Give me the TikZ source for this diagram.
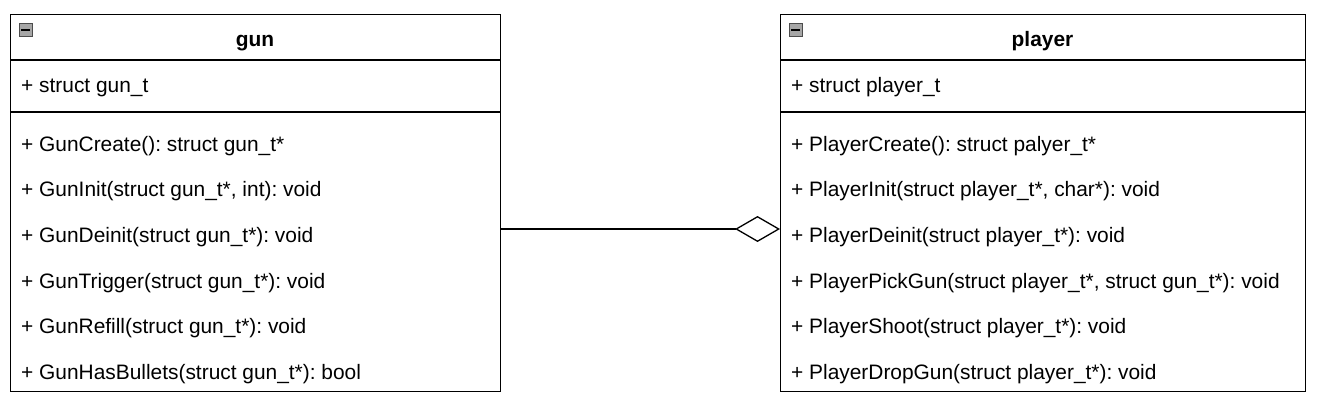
\documentclass[tikz,border=0pt]{standalone}
\usepackage{fontspec}
\setmainfont{Liberation Sans}
\usetikzlibrary{arrows.meta}
\frenchspacing
\begin{document}
\begin{tikzpicture}[x=1pt,y=-1pt,
  classbox/.style={draw, line width=1.3pt, minimum width=#1, minimum height=377pt, inner sep=0pt, anchor=north west},
  sep/.style={line width=1.3pt},
  member/.style={anchor=base west, inner sep=0pt, font=\fontsize{20.9}{24}\selectfont},
  title/.style={anchor=base, inner sep=0pt, font=\fontsize{20.9}{24}\selectfont\bfseries},
  icon/.style={draw=black!70, fill=black!35, line width=0.8pt, minimum size=13pt, inner sep=0pt},
  agg/.style={line width=1.3pt, -{Diamond[open, length=45pt, width=26pt, line width=1.3pt]}}
]
\useasboundingbox (0,0) rectangle (1321,409);
% gun
\node[classbox=490pt] (gun) at (10,14) {};
\draw[sep] (10,60) -- (500,60);
\draw[sep] (10,112) -- (500,112);
\node[icon] (gunicon) at (25.5,30) {};
\draw[line width=2pt] (21,30) -- (30,30);
\node[title] (guntitle) at (255,47) {gun};
\node[member] (ga) at (21,92.5) {+ struct gun\_t};
\node[member] (g1) at (21,151.5) {+ GunCreate(): struct gun\_t*};
\node[member] (g2) at (21,196.5) {+ GunInit(struct gun\_t*, int): void};
\node[member] (g3) at (21,242.5) {+ GunDeinit(struct gun\_t*): void};
\node[member] (g4) at (21,288.5) {+ GunTrigger(struct gun\_t*): void};
\node[member] (g5) at (21,333.5) {+ GunRefill(struct gun\_t*): void};
\node[member] (g6) at (21,379.5) {+ GunHasBullets(struct gun\_t*): bool};
% player
\node[classbox=525pt] (player) at (780,14) {};
\draw[sep] (780,60) -- (1305,60);
\draw[sep] (780,112) -- (1305,112);
\node[icon] (playericon) at (795.5,30) {};
\draw[line width=2pt] (791,30) -- (800,30);
\node[title] (playertitle) at (1042.5,47) {player};
\node[member] (pa) at (791,92.5) {+ struct player\_t};
\node[member] (p1) at (791,151.5) {+ PlayerCreate(): struct palyer\_t*};
\node[member] (p2) at (791,196.5) {+ PlayerInit(struct player\_t*, char*): void};
\node[member] (p3) at (791,242.5) {+ PlayerDeinit(struct player\_t*): void};
\node[member] (p4) at (791,288.5) {+ PlayerPickGun(struct player\_t*, struct gun\_t*): void};
\node[member] (p5) at (791,333.5) {+ PlayerShoot(struct player\_t*): void};
\node[member] (p6) at (791,379.5) {+ PlayerDropGun(struct player\_t*): void};
% aggregation
\draw[agg] (gun.east |- 0,229) -- (player.west |- 0,229);
\end{tikzpicture}
\end{document}
